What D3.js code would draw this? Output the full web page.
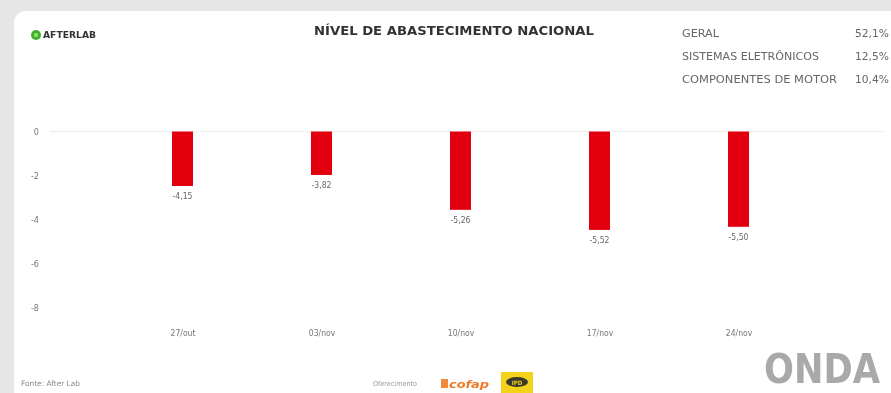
<!DOCTYPE html>
<html><head><meta charset="utf-8">
<script src="https://cdn.jsdelivr.net/npm/d3@7"></script>
<style>
html,body{margin:0;padding:0;background:#e6e6e6;}
svg{display:block;filter:blur(0.45px);}
</style></head>
<body><svg id="c" width="891" height="393"></svg>
<script>
const categories = ["27/out", "03/nov", "10/nov", "17/nov", "24/nov"];
const values = [-2.47, -1.97, -3.55, -4.46, -4.32];
const valueLabels = ["-4,15", "-3,82", "-5,26", "-5,52", "-5,50"];
const yTicks = [0, -2, -4, -6, -8];
const legendNames = ["GERAL", "SISTEMAS ELETRÔNICOS", "COMPONENTES DE MOTOR"];
const legendValues = ["52,1%", "12,5%", "10,4%"];
const title = "NÍVEL DE ABASTECIMENTO NACIONAL";

const svg = d3.select("#c");
const cond = "'Liberation Sans Narrow','DejaVu Sans Condensed','Roboto Condensed',Arial,sans-serif";

svg.append("rect").attr("x",0).attr("y",0).attr("width",891).attr("height",393).attr("fill","#e6e6e6");
svg.append("rect").attr("x",14).attr("y",11).attr("width",900).attr("height",420).attr("rx",12).attr("fill","#ffffff");

// logo AfterLab
const lg = svg.append("g");
lg.append("circle").attr("cx",36).attr("cy",35).attr("r",5).attr("fill","#3fae2a");
lg.append("circle").attr("cx",36).attr("cy",35).attr("r",2.2).attr("fill","#8fd96b");
lg.append("text").attr("x",43).attr("y",38).attr("font-family",cond).attr("font-size",8).attr("font-weight","bold")
  .attr("fill","#333").attr("textLength",53).attr("lengthAdjust","spacingAndGlyphs").text("AFTERLAB");

// title
svg.append("text").attr("x",454).attr("y",35).attr("text-anchor","middle").attr("font-family",cond)
  .attr("font-size",13).attr("font-weight","bold").attr("fill","#333").attr("textLength",280).attr("lengthAdjust","spacingAndGlyphs").text(title);

// legend
const legY = [37, 60, 83];
const legW = [37, 137, 155];
legendNames.forEach((n,i)=>{
  svg.append("text").attr("x",682).attr("y",legY[i]).attr("font-family",cond).attr("font-size",11)
    .attr("fill","#666").attr("textLength",legW[i]).attr("lengthAdjust","spacingAndGlyphs").text(n);
  svg.append("text").attr("x",855).attr("y",legY[i]).attr("font-family",cond).attr("font-size",11)
    .attr("fill","#666").attr("textLength",34).attr("lengthAdjust","spacingAndGlyphs").text(legendValues[i]);
});

// scales
const y = d3.scaleLinear().domain([0,-8]).range([131.5,308]);
const x = d3.scalePoint().domain(categories).range([182.5,738.5]);
const bw = 21;

// zero grid line
svg.append("line").attr("x1",50).attr("x2",885).attr("y1",y(0)).attr("y2",y(0)).attr("stroke","#f0f0f0").attr("stroke-width",1.5);

// y axis labels
const yAxis = d3.axisLeft(y).tickValues(yTicks).tickSize(0).tickFormat(d=>String(d));
const ya = svg.append("g").attr("transform","translate(40,0)").call(yAxis);
ya.select(".domain").remove();
ya.selectAll("text").attr("font-family",cond).attr("font-size",9).attr("fill","#777").attr("x",-1).attr("dy","0.32em");

// bars
svg.selectAll("rect.bar").data(values).join("rect").attr("class","bar")
  .attr("x",(d,i)=>x(categories[i])-bw/2).attr("width",bw)
  .attr("y",d=>y(0)).attr("height",d=>y(d)-y(0)).attr("fill","#e2000f");

// value labels
svg.selectAll("text.vl").data(values).join("text").attr("class","vl")
  .attr("x",(d,i)=>x(categories[i])).attr("y",d=>y(d)+13).attr("text-anchor","middle")
  .attr("font-family",cond).attr("font-size",8.5).attr("fill","#666").text((d,i)=>valueLabels[i]);

// x axis labels
const xAxis = d3.axisBottom(x).tickSize(0);
const xa = svg.append("g").attr("transform","translate(0,330)").call(xAxis);
xa.select(".domain").remove();
xa.selectAll("text").attr("font-family",cond).attr("font-size",8.5).attr("fill","#777").attr("dy","0.3em");

// footer
svg.append("text").attr("x",21).attr("y",386).attr("font-family",cond).attr("font-size",7.5).attr("fill","#888").attr("textLength",59).attr("lengthAdjust","spacingAndGlyphs").text("Fonte: After Lab");
svg.append("text").attr("x",373).attr("y",386).attr("font-family",cond).attr("font-size",7).attr("fill","#999").attr("textLength",44).attr("lengthAdjust","spacingAndGlyphs").text("Oferecimento");
svg.append("rect").attr("x",441).attr("y",379).attr("width",7).attr("height",9).attr("fill","#f08a3c");
svg.append("text").attr("x",449).attr("y",388).attr("font-family",cond).attr("font-size",11).attr("font-style","italic").attr("font-weight","bold").attr("fill","#f07a2a").attr("textLength",40).attr("lengthAdjust","spacingAndGlyphs").text("cofap");
svg.append("rect").attr("x",501).attr("y",372).attr("width",32).attr("height",21).attr("fill","#f5d21a");
svg.append("ellipse").attr("cx",517).attr("cy",382).attr("rx",11).attr("ry",5).attr("fill","#3a3a2a");
svg.append("text").attr("x",517).attr("y",384.5).attr("text-anchor","middle").attr("font-family",cond).attr("font-size",6).attr("font-weight","bold").attr("fill","#f5d21a").text("IPD");

svg.append("text").attr("x",822).attr("y",383).attr("text-anchor","middle").attr("font-family",cond)
  .attr("font-size",40).attr("font-weight","bold").attr("fill","#a9a9a9").attr("textLength",116).attr("lengthAdjust","spacingAndGlyphs").text("ONDA");
</script>
</body></html>
